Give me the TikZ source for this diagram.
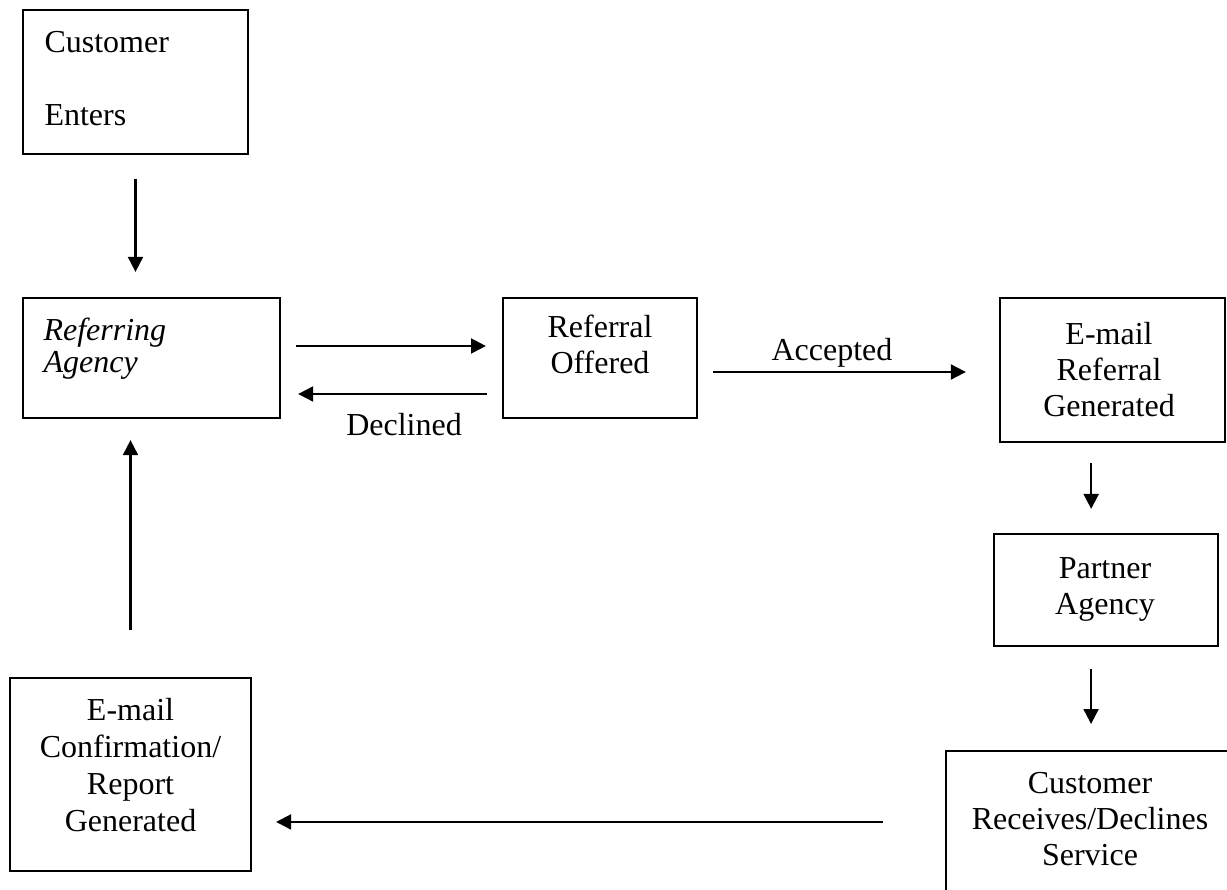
\documentclass[tikz,border=0pt]{standalone}
\usepackage{fontspec}
\setmainfont{Liberation Serif}
\usetikzlibrary{arrows.meta}

\begin{document}
\begin{tikzpicture}[x=0.375pt, y=-0.375pt,
  box/.style={draw, line width=0.8pt, inner sep=0pt},
  txt/.style={inner sep=0pt, align=center, font=\fontsize{12pt}{13.5pt}\selectfont},
  arrow/.style={-{Triangle[length=5.6pt, width=5.6pt]}, line width=0.8pt}
]
  \useasboundingbox (0,0) rectangle (1227,890);
  \clip (0,0) rectangle (1227,890);

  % boxes
  \node[box, minimum width=84.4pt, minimum height=54pt] (enters) at (135.5,82) {};
  \node[box, minimum width=96.4pt, minimum height=45pt] (referring) at (151.5,358) {};
  \node[box, minimum width=72.75pt, minimum height=45pt] (offered) at (600,358) {};
  \node[box, minimum width=84.4pt, minimum height=54pt] (emailref) at (1112.5,370) {};
  \node[box, minimum width=84pt, minimum height=42pt] (partner) at (1106,590) {};
  \node[box, minimum width=114pt, minimum height=59.6pt] (receives) at (1098,830.5) {};
  \node[box, minimum width=90.4pt, minimum height=72.4pt] (confirm) at (130.5,774.5) {};

  % texts
  \node[txt, align=left, anchor=north west, font=\fontsize{12pt}{27.4pt}\selectfont] (entersTxt) at (44,31) {Customer\\Enters};
  \node[txt, align=left, anchor=north west, font=\fontsize{12pt}{12.3pt}\selectfont\itshape] (referringTxt) at (43,317) {Referring\\Agency};
  \node[txt, anchor=north] (offeredTxt) at (600,314) {Referral\\Offered};
  \node[txt, anchor=north] (emailrefTxt) at (1109,322) {E-mail\\Referral\\Generated};
  \node[txt, anchor=north] (partnerTxt) at (1105,557) {Partner\\Agency};
  \node[txt, anchor=north] (receivesTxt) at (1090,772) {Customer\\Receives/Declines\\Service};
  \node[txt, anchor=north, font=\fontsize{12pt}{13.9pt}\selectfont] (confirmTxt) at (130.5,698) {E-mail\\Confirmation/\\Report\\Generated};

  % connectors
  \draw[arrow, shorten <=9pt, shorten >=9.4pt] (enters.south) -- (enters.south |- referring.north);
  \draw[arrow, shorten <=5.6pt, shorten >=6pt] ([yshift=4.5pt]referring.east) -- ([yshift=4.5pt]referring.east -| offered.west);
  \draw[arrow, shorten <=5.6pt, shorten >=6.4pt] ([yshift=-13.5pt]offered.west) -- ([yshift=-13.5pt]offered.west -| referring.east)
    node[txt, midway, below=7pt, xshift=4.7pt] (declined) {Declined};
  \draw[arrow, shorten <=5.6pt, shorten >=12.4pt] ([yshift=-5.25pt]offered.east) -- ([yshift=-5.25pt]offered.east -| emailref.west)
    node[txt, midway, above=1.2pt, xshift=-6.2pt] (accepted) {Accepted};
  \draw[arrow, shorten <=7.5pt, shorten >=9pt] ([xshift=-8pt]emailref.south) -- ([xshift=-8pt]emailref.south |- partner.north);
  \draw[arrow, shorten <=8.25pt, shorten >=9.75pt] ([xshift=-5.6pt]partner.south) -- ([xshift=-5.6pt]partner.south |- receives.north);
  \draw[arrow, shorten <=23.25pt, shorten >=9pt] ([yshift=-17.8pt]confirm.east -| receives.west) -- ([yshift=-17.8pt]confirm.east);
  \draw[arrow, shorten <=17.6pt, shorten >=7.9pt] (confirm.north) -- (confirm.north |- referring.south);
\end{tikzpicture}
\end{document}
